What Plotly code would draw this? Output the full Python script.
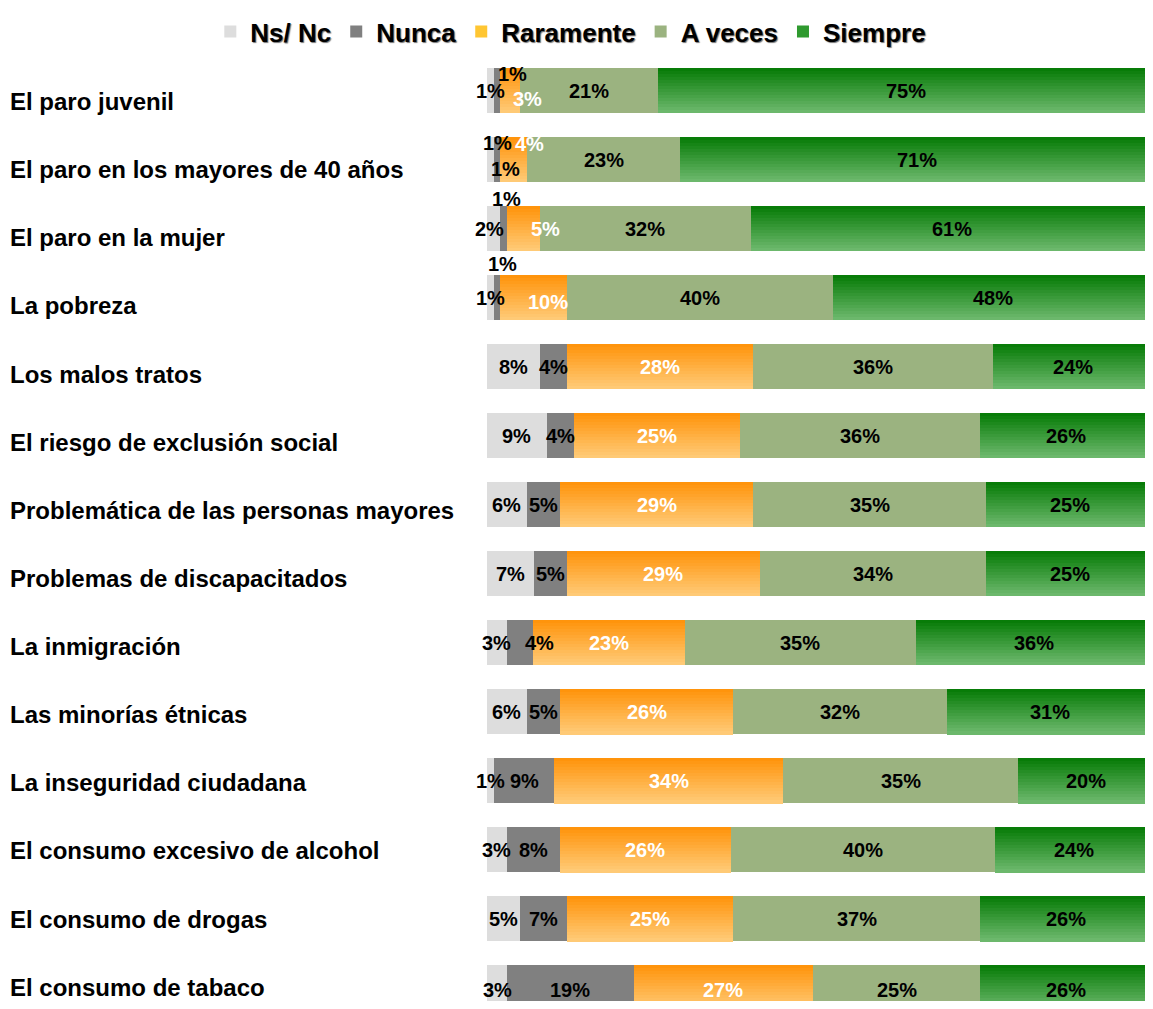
import plotly.graph_objects as go

# data (% of answers)
categories = [
    "El paro juvenil",
    "El paro en los mayores de 40 años",
    "El paro en la mujer",
    "La pobreza",
    "Los malos tratos",
    "El riesgo de exclusión social",
    "Problemática de las personas mayores",
    "Problemas de discapacitados",
    "La inmigración",
    "Las minorías étnicas",
    "La inseguridad ciudadana",
    "El consumo excesivo de alcohol",
    "El consumo de drogas",
    "El consumo de tabaco",
]
series_names = ["Ns/ Nc", "Nunca", "Raramente", "A veces", "Siempre"]
ns_nc = [1, 1, 2, 1, 8, 9, 6, 7, 3, 6, 1, 3, 5, 3]
nunca = [1, 1, 1, 1, 4, 4, 5, 5, 4, 5, 9, 8, 7, 19]
raramente = [3, 4, 5, 10, 28, 25, 29, 29, 23, 26, 34, 26, 25, 27]
a_veces = [21, 23, 32, 40, 36, 36, 35, 34, 35, 32, 35, 40, 37, 25]
siempre = [75, 71, 61, 48, 24, 26, 25, 25, 36, 31, 20, 24, 26, 26]

series = [ns_nc, nunca, raramente, a_veces, siempre]

FONT = "Liberation Sans, Arial, sans-serif"
BAR_W = 0.652
N_STRIP = 15

# (top colour, bottom colour) for every series; equal means flat fill
fills = [
    ((221, 221, 221), (221, 221, 221)),
    ((128, 128, 128), (128, 128, 128)),
    ((255, 148, 12), (255, 202, 118)),
    ((155, 179, 128), (155, 179, 128)),
    ((8, 124, 8), (108, 184, 108)),
]
legend_colors = ["#dddddd", "#808080", "#ffc632", "#9bb380", "#2f9a2f"]
label_colors = ["black", "black", "white", "black", "black"]

# 100% stacked: normalise each row
totals = [sum(s[i] for s in series) for i in range(len(categories))]
pct = [[s[i] / totals[i] * 100 for i in range(len(categories))] for s in series]
starts = []
run = [0.0] * len(categories)
for p in pct:
    starts.append(run[:])
    run = [run[i] + p[i] for i in range(len(categories))]


def mix(c1, c2, t):
    return "rgb(%d,%d,%d)" % tuple(round(a + (b - a) * t) for a, b in zip(c1, c2))


fig = go.Figure()

# legend-only entries
for k, name in enumerate(series_names):
    fig.add_trace(go.Bar(
        x=[0], y=[categories[0]], base=[0], orientation="h", name=name,
        marker=dict(color=legend_colors[k], line=dict(width=0)),
        hoverinfo="skip",
    ))

for k, name in enumerate(series_names):
    top, bot = fills[k]
    n = 1 if top == bot else N_STRIP
    for j in range(n):
        t = j / (n - 1) if n > 1 else 0
        fig.add_trace(go.Bar(
            x=pct[k], y=categories, base=starts[k], orientation="h",
            width=BAR_W / n * (1.08 if n > 1 else 1),
            offset=-BAR_W / 2 + j * BAR_W / n,
            marker=dict(color=mix(top, bot, t), line=dict(width=0)),
            showlegend=False, name=name,
            text=[f"{v}%" for v in series[k]], hoverinfo="text",
            textposition="none",
        ))

# label nudges (pixels) where the original moved small labels around
nudge = {
    (0, 1): (16, 17), (0, 2): (17, -8),
    (1, 0): (7, 17), (1, 1): (8, -9), (1, 2): (16, 16),
    (2, 0): (-4, 0), (2, 1): (3, 30), (2, 2): (22, 0),
    (3, 1): (5, 34), (3, 2): (14, -4),
    (8, 1): (20, 0),
}

annotations = []
for k in range(len(series_names)):
    for i, cat in enumerate(categories):
        dx, dy = nudge.get((i, k), (0, 0))
        if i == len(categories) - 1:
            dy -= 2
        annotations.append(dict(
            x=starts[k][i] + pct[k][i] / 2, y=cat, xref="x", yref="y",
            text=f"<b>{series[k][i]}%</b>", showarrow=False,
            xshift=dx, yshift=dy,
            font=dict(family=FONT, size=20, color=label_colors[k]),
        ))

for i, cat in enumerate(categories):
    annotations.append(dict(
        x=0, y=cat, xref="paper", yref="y", xanchor="left",
        text=f"<b>{cat}</b>", showarrow=False,
        yshift=-(11 - 0.9 * i),
        font=dict(family=FONT, size=24, color="black"),
    ))

# page body adds 8px around the figure, so keep it inside the window
fig.update_layout(
    width=1137, height=993,
    barmode="overlay",
    bargap=0,
    plot_bgcolor="white", paper_bgcolor="white",
    margin=dict(l=0, r=0, t=48, b=0),
    xaxis=dict(domain=[0.4213, 1], range=[0, 98.8], visible=False, fixedrange=True),
    yaxis=dict(range=[13.19, -0.5], visible=False, type="category"),
    showlegend=True,
    legend=dict(
        orientation="h", x=0.495, xanchor="center", y=1.0508, yanchor="top",
        font=dict(family=FONT, size=26, color="black",
                  shadow="1px 1px 1px rgba(0,0,0,0.55)", weight="bold"),
        traceorder="normal", itemwidth=30,
    ),
    annotations=annotations,
    font=dict(family=FONT),
)

fig.write_html("out.html")
